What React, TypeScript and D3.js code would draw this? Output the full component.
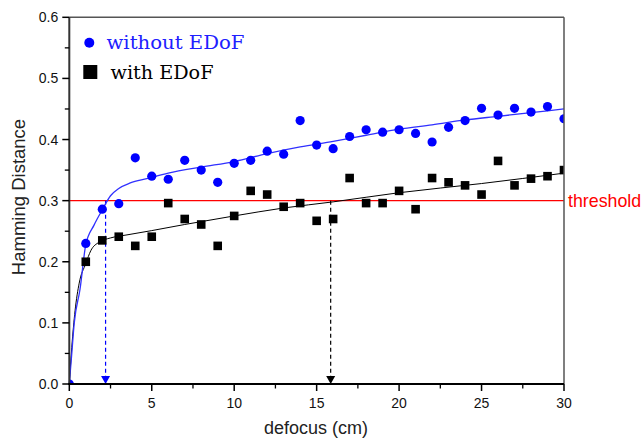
import React from 'react';
import * as d3 from 'd3';

// measured data (defocus in cm)
const defocus = [0, 1, 2, 3, 4, 5, 6, 7, 8, 9, 10, 11, 12, 13, 14, 15, 16, 17, 18, 19, 20, 21, 22, 23, 24, 25, 26, 27, 28, 29, 30];
const withoutEdof = [0, 0.23, 0.286, 0.295, 0.37, 0.34, 0.335, 0.366, 0.35, 0.33, 0.361, 0.366, 0.381, 0.376, 0.431, 0.391, 0.385, 0.405, 0.416, 0.412, 0.416, 0.41, 0.396, 0.42, 0.431, 0.451, 0.44, 0.451, 0.445, 0.454, 0.434];
const withEdofX = [1, 2, 3, 4, 5, 6, 7, 8, 9, 10, 11, 12, 13, 14, 15, 16, 17, 18, 19, 20, 21, 22, 23, 24, 25, 26, 27, 28, 29, 30];
const withEdof = [0.2, 0.235, 0.241, 0.226, 0.241, 0.296, 0.27, 0.261, 0.226, 0.275, 0.316, 0.31, 0.29, 0.296, 0.267, 0.27, 0.337, 0.296, 0.296, 0.316, 0.286, 0.337, 0.33, 0.325, 0.31, 0.365, 0.325, 0.336, 0.34, 0.35];

// fitted curves
const blueFitX = [0, 0.15, 0.3, 0.65, 1, 1.5, 2, 2.5, 3, 3.7, 4.7, 6, 8, 10, 12, 14, 16, 18, 20, 22, 24, 26, 28, 30];
const blueFitY = [0, 0.05, 0.1, 0.155, 0.228, 0.26, 0.285, 0.308, 0.32, 0.329, 0.336, 0.345, 0.355, 0.364, 0.377, 0.388, 0.397, 0.407, 0.417, 0.424, 0.432, 0.438, 0.444, 0.45];
const blackFitX = [0, 0.15, 0.35, 0.6, 1, 1.3, 1.8, 2.5, 3.5, 5, 7, 10, 13, 16, 20, 25, 30];
const blackFitY = [0, 0.06, 0.12, 0.165, 0.197, 0.218, 0.232, 0.239, 0.244, 0.251, 0.261, 0.275, 0.288, 0.298, 0.313, 0.328, 0.345];

const threshold = 0.3;
const crossings = [2.2, 15.85];
const crossColors = ['#0000ff', '#000000'];

const xTicks = [0, 5, 10, 15, 20, 25, 30];
const yTicks = [0, 0.1, 0.2, 0.3, 0.4, 0.5, 0.6];

const W = 644, H = 439;
const x = d3.scaleLinear().domain([0, 30]).range([69.3, 564]);
const y = d3.scaleLinear().domain([0, 0.6]).range([384, 17.3]);

const tickFont = '"Liberation Sans", Arial, sans-serif';
const legendFont = '"DejaVu Serif", "Liberation Serif", serif';

export default function App() {
  const line = d3.line<[number, number]>()
    .x(d => x(d[0]))
    .y(d => y(d[1]))
    .curve(d3.curveMonotoneX);
  const blueFit = line(blueFitX.map((v, i) => [v, blueFitY[i]]));
  const blackFit = line(blackFitX.map((v, i) => [v, blackFitY[i]]));
  const xMinor = d3.range(0, 30.01, 2.5).filter(v => v % 5 !== 0);
  const yMinor = d3.range(0.05, 0.6, 0.1);

  const [x0, x1] = x.range();
  const [y0, y1] = y.range();

  return (
    <svg width={W} height={H} style={{ position: 'absolute', left: 0, top: 0, background: '#fff' }}>
      <defs>
        <clipPath id="plot">
          <rect x={x0} y={y1} width={x1 - x0} height={y0 - y1} />
        </clipPath>
      </defs>

      {/* threshold */}
      <line x1={x0} x2={x1} y1={y(threshold)} y2={y(threshold)} stroke="#ff0000" strokeWidth={1.3} />
      <text x={568} y={y(threshold) + 6} fill="#ff0000" fontFamily={tickFont} fontSize={17.8}>threshold</text>

      {/* crossing markers */}
      {crossings.map((c, i) => (
        <g key={i}>
          <line x1={x(c)} x2={x(c)} y1={y(threshold)} y2={y(0)} stroke={crossColors[i]}
            strokeWidth={1.2} strokeDasharray="4,3" />
          <path d={`M${x(c) - 4.5},${y(0) - 8} L${x(c) + 4.5},${y(0) - 8} L${x(c)},${y(0)} Z`} fill={crossColors[i]} />
        </g>
      ))}

      {/* fits */}
      <path d={blackFit || ''} fill="none" stroke="#000" strokeWidth={1} />
      <path d={blueFit || ''} fill="none" stroke="#3030ff" strokeWidth={1.3} />

      {/* points */}
      <g clipPath="url(#plot)">
        {withEdof.map((v, i) => (
          <rect key={i} x={x(withEdofX[i]) - 4.3} y={y(v) - 4.3} width={8.6} height={8.6} fill="#000" />
        ))}
        {withoutEdof.map((v, i) => (
          <circle key={i} cx={x(defocus[i])} cy={y(v)} r={4.6} fill="#0000ff" />
        ))}
      </g>

      {/* frame */}
      <line x1={x0} x2={x1} y1={y1} y2={y1} stroke="#555" strokeWidth={1.5} />
      <line x1={x1} x2={x1} y1={y1} y2={y0} stroke="#555" strokeWidth={1.5} />
      <line x1={x0} x2={x0} y1={y1} y2={y0 + 1} stroke="#333" strokeWidth={2} />
      <line x1={x0 - 1} x2={x1} y1={y0} y2={y0} stroke="#000" strokeWidth={2} />

      {/* y ticks */}
      {yTicks.map(t => (
        <g key={t}>
          <line x1={x0 - 7} x2={x0} y1={y(t)} y2={y(t)} stroke="#000" strokeWidth={1.5} />
          <text x={x0 - 11} y={y(t) + 5} textAnchor="end" fontFamily={tickFont} fontSize={14} fill="#111">{t.toFixed(1)}</text>
        </g>
      ))}
      {yMinor.map(t => (
        <line key={t} x1={x0 - 4.5} x2={x0} y1={y(t)} y2={y(t)} stroke="#000" strokeWidth={1.3} />
      ))}

      {/* x ticks */}
      {xTicks.map(t => (
        <g key={t}>
          <line x1={x(t)} x2={x(t)} y1={y0} y2={y0 + 7} stroke="#000" strokeWidth={1.5} />
          <text x={x(t)} y={y0 + 24} textAnchor="middle" fontFamily={tickFont} fontSize={14} fill="#111">{t}</text>
        </g>
      ))}
      {xMinor.map(t => (
        <line key={t} x1={x(t)} x2={x(t)} y1={y0} y2={y0 + 4.5} stroke="#000" strokeWidth={1.3} />
      ))}

      {/* axis titles */}
      <text x={316} y={434} textAnchor="middle" fontFamily={tickFont} fontSize={18} fill="#222">defocus (cm)</text>
      <text transform="translate(25,197) rotate(-90)" textAnchor="middle"
        fontFamily={tickFont} fontSize={18.5} fill="#222">Hamming Distance</text>

      {/* legend */}
      <circle cx={89.3} cy={42.7} r={5} fill="#0000ff" />
      <text x={106.5} y={48.5} fontFamily={legendFont} fontSize={19} fill="#2020ff"
        textLength={138} lengthAdjust="spacingAndGlyphs">without EDoF</text>
      <rect x={83.3} y={65} width={14} height={14} fill="#000" />
      <text x={110.5} y={79.3} fontFamily={legendFont} fontSize={19} fill="#000"
        textLength={103} lengthAdjust="spacingAndGlyphs">with EDoF</text>
    </svg>
  );
}
